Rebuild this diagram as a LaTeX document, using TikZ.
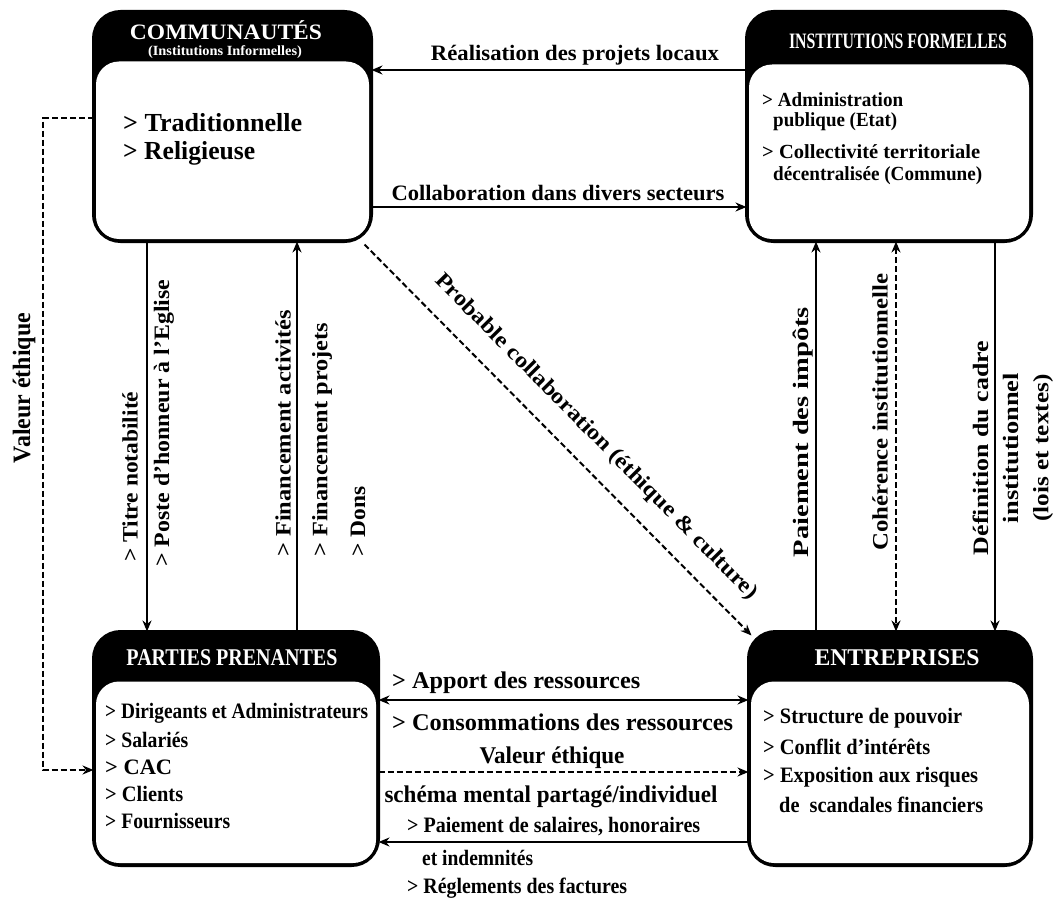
\documentclass[tikz,border=0pt]{standalone}
\usepackage{fontspec}
\setmainfont{Liberation Serif}
\usetikzlibrary{arrows.meta,calc}
\newcommand\tw[2]{\resizebox{#1pt}{\height}{#2}}
\newcommand\bodyfill[2]{%
  \fill[white, rounded corners=23pt] ($(#1.south west)+(2.5,-2.5)$) rectangle ($(#1.north east)+(-2.5,#2)$);
  \draw[line width=3pt, rounded corners=27pt] (#1.south west) rectangle (#1.north east);}
\tikzset{
  box/.style={draw, fill=black, line width=3pt, rounded corners=27pt, inner sep=0pt},
  hdr/.style={text=white, inner sep=0pt, font=\bfseries\fontsize{22}{24}\selectfont},
  itm/.style={inner sep=0pt, anchor=west, font=\bfseries\fontsize{22}{24}\selectfont},
  lbl/.style={inner sep=0pt, font=\bfseries\fontsize{22}{24}\selectfont},
  ahead/.tip={Stealth[length=11pt,width=9pt]},
  arr/.style={line width=2.5pt, -{ahead}},
  darr/.style={line width=2pt, dash pattern=on 6pt off 3pt, -{ahead}},
}
\begin{document}
\begin{tikzpicture}[x=1pt,y=-1pt]
\useasboundingbox (0,0) rectangle (1058,899);
\fill[white] (0,0) rectangle (1058,899);

% ---------- COMMUNAUTES
\node[box, minimum width=275pt, minimum height=227pt] (comm) at (232.5,126.5) {};
\bodyfill{comm}{50}
\node[hdr, font=\bfseries\fontsize{22}{24}\selectfont] (commh) at (226,30) {\tw{192}{COMMUNAUTÉS}};
\node[hdr, font=\bfseries\fontsize{14}{16}\selectfont] (comms) at (225,52) {\tw{154}{(Institutions Informelles)}};
\node[itm, font=\bfseries\fontsize{26}{28}\selectfont] (c1) at (123,123) {\tw{179}{> Traditionnelle}};
\node[itm, font=\bfseries\fontsize{26}{28}\selectfont] (c2) at (123,153) {\tw{132}{> Religieuse}};

% ---------- INSTITUTIONS FORMELLES
\node[box, minimum width=282pt, minimum height=227pt] (inst) at (889,126.5) {};
\bodyfill{inst}{53}
\node[hdr] (insth) at (898,41) {\tw{218}{INSTITUTIONS FORMELLES}};
\node[itm, font=\bfseries\fontsize{20}{22}\selectfont] (i1) at (762,100) {\tw{141}{> Administration}};
\node[itm, font=\bfseries\fontsize{20}{22}\selectfont] (i2) at (773,122) {\tw{124}{publique (Etat)}};
\node[itm, font=\bfseries\fontsize{20}{22}\selectfont] (i3) at (762,152) {\tw{218}{> Collectivité territoriale}};
\node[itm, font=\bfseries\fontsize{20}{22}\selectfont] (i4) at (773,176) {\tw{209}{décentralisée (Commune)}};

% ---------- PARTIES PRENANTES
\node[box, minimum width=282pt, minimum height=231pt] (pp) at (236,748.5) {};
\bodyfill{pp}{50}
\node[hdr, font=\bfseries\fontsize{24}{26}\selectfont] (pph) at (232,658) {\tw{211}{PARTIES PRENANTES}};
\foreach \ltext/\lwidth/\lypos [count=\i] in {{> Dirigeants et Administrateurs}/263/713, {> Salariés}/83/740, {> CAC}/67/767, {> Clients}/78/794, {> Fournisseurs}/125/821}
  \node[itm] (p\i) at (105,\lypos) {\tw{\lwidth}{\ltext}};

% ---------- ENTREPRISES
\node[box, minimum width=280pt, minimum height=231pt] (ent) at (890,748.5) {};
\bodyfill{ent}{50}
\node[hdr, font=\bfseries\fontsize{24}{26}\selectfont] (enth) at (897,658) {\tw{165}{ENTREPRISES}};
\foreach \ltext/\lwidth/\lxpos/\lypos [count=\i] in {{> Structure de pouvoir}/199/763/718, {> Conflit d’intérêts}/167/763/747, {> Exposition aux risques}/215/763/777, {de\ \ scandales financiers}/204/779/805}
  \node[itm] (e\i) at (\lxpos,\lypos) {\tw{\lwidth}{\ltext}};

% ---------- top connectors
\draw[arr] (inst.west |- 0,70) -- (comm.east |- 0,70);
\node[lbl] (l1) at (575,55) {\tw{288}{Réalisation des projets locaux}};
\draw[arr] (comm.east |- 0,207) -- (inst.west |- 0,207);
\node[lbl] (l2) at (558,193) {\tw{333}{Collaboration dans divers secteurs}};

% ---------- diagonal
\draw[darr] ($(comm.south east)+(-7,3)$) -- ($(ent.north west)+(3,4)$);
\node[lbl, rotate=-45.3] (l3) at (596,437) {\tw{449}{Probable collaboration (éthique \& culture)}};

% ---------- left dashed loop
\draw[darr] (comm.west |- 0,118) -- (43,118) -- (43,770) -- (pp.west |- 0,770);
\node[lbl, rotate=90, font=\bfseries\fontsize{25}{27}\selectfont] (l4) at (24,388) {\tw{150}{Valeur éthique}};

% ---------- left verticals
\draw[arr] (comm.south -| 147,0) -- (pp.north -| 147,0);
\node[lbl, rotate=90, anchor=west] (l5) at (130,562) {\tw{170}{> Titre notabilité}};
\node[lbl, rotate=90, anchor=west] (l6) at (164,567) {\tw{287}{> Poste d’honneur à l’Eglise}};
\draw[arr] (pp.north -| 297,0) -- (comm.south -| 297,0);
\node[lbl, rotate=90, anchor=west] (l7) at (283,557) {\tw{247}{> Financement activités}};
\node[lbl, rotate=90, anchor=west] (l8) at (322,557) {\tw{234}{> Financement projets}};
\node[lbl, rotate=90, anchor=west] (l9) at (358,557) {\tw{70}{> Dons}};

% ---------- right verticals
\draw[arr] (ent.north -| 816,0) -- (inst.south -| 816,0);
\node[lbl, rotate=90] (l10) at (803,432) {\tw{250}{Paiement des impôts}};
\draw[darr, {ahead}-{ahead}] (inst.south -| 896,0) -- (ent.north -| 896,0);
\node[lbl, rotate=90] (l11) at (880,412) {\tw{277}{Cohérence institutionnelle}};
\draw[arr] (inst.south -| 995,0) -- (ent.north -| 995,0);
\node[lbl, rotate=90, align=center, font=\bfseries\fontsize{22}{30}\selectfont] (l12) at (1013,448)
  {\tw{214}{Définition du cadre}\\\tw{150}{institutionnel}\\\tw{147}{(lois et textes)}};

% ---------- bottom middle
\draw[line width=2.5pt, {ahead}-{ahead}] (pp.east |- 0,700) -- (ent.west |- 0,700);
\node[itm, font=\bfseries\fontsize{24}{26}\selectfont] (m1) at (392,683) {\tw{248}{> Apport des ressources}};
\node[itm, font=\bfseries\fontsize{24}{26}\selectfont] (m2) at (392,722) {\tw{341}{> Consommations des ressources}};
\draw[darr] (pp.east |- 0,772) -- (ent.west |- 0,772);
\node[lbl, font=\bfseries\fontsize{24}{26}\selectfont] (m3) at (552,758) {\tw{145}{Valeur éthique}};
\node[lbl, font=\bfseries\fontsize{24}{26}\selectfont] (m4) at (551,797) {\tw{333}{schéma mental partagé/individuel}};
\draw[arr] (ent.west |- 0,842) -- (pp.east |- 0,842);
\node[itm] (m5) at (407,827) {\tw{293}{> Paiement de salaires, honoraires}};
\node[itm] (m6) at (422,858) {\tw{111}{et indemnités}};
\node[itm] (m7) at (407,888) {\tw{220}{> Réglements des factures}};
\end{tikzpicture}
\end{document}
